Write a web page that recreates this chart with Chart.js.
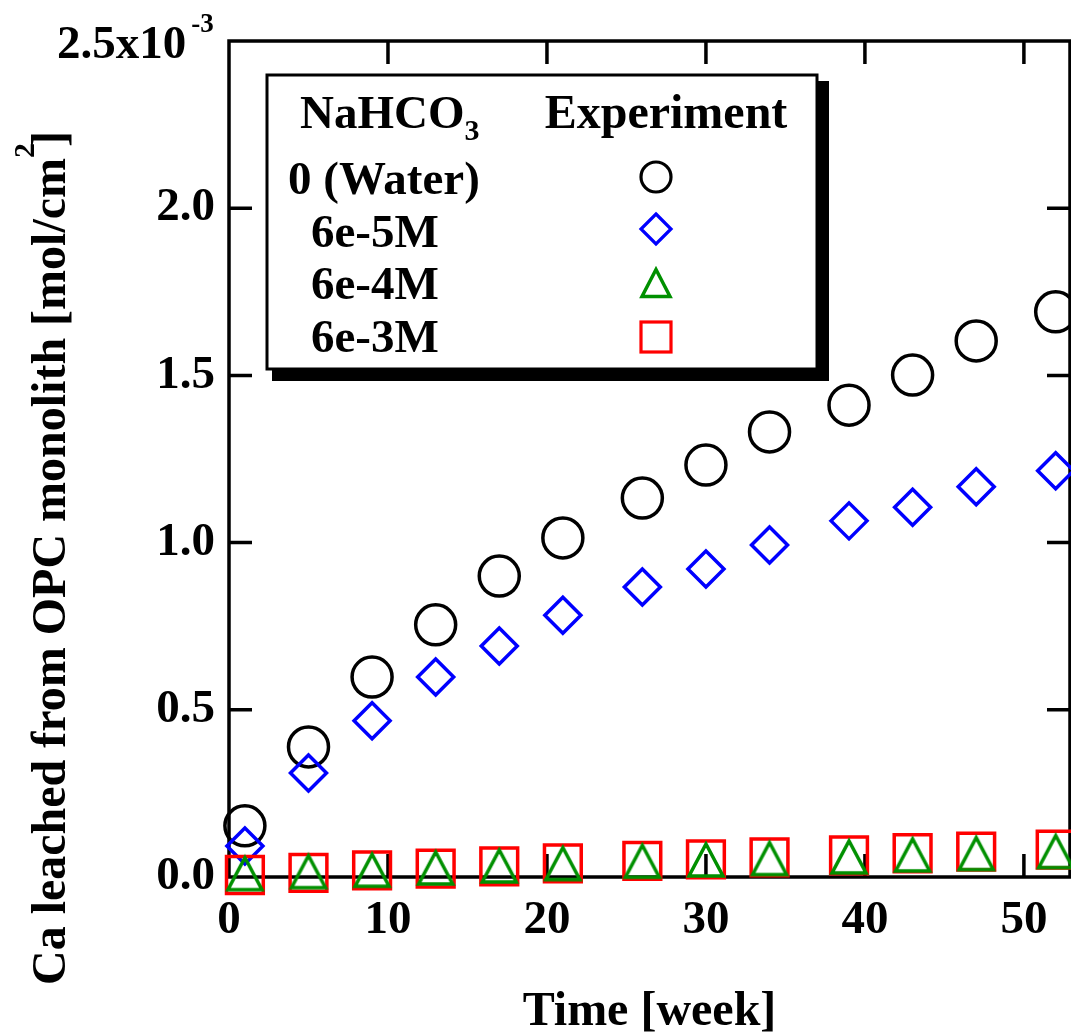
<!DOCTYPE html>
<html>
<head>
<meta charset="utf-8">
<title>Ca leaching from OPC monolith</title>
<script src="https://cdn.jsdelivr.net/npm/chart.js@4.4.1/dist/chart.umd.min.js"></script>
<style>
  html, body { margin: 0; padding: 0; background: #fff; }
  #wrap { width: 1071px; height: 1033px; }
</style>
</head>
<body>
<div id="wrap"><canvas id="leachChart" width="1071" height="1033"></canvas></div>
<script>
// leaching time, weeks
const weeks = [1, 5, 9, 13, 17, 21, 26, 30, 34, 39, 43, 47, 52];

// cumulative Ca leached, in units of 1e-3 mol/cm2
const caWater = [0.153, 0.389, 0.598, 0.754, 0.900, 1.014, 1.133, 1.232, 1.331, 1.411, 1.501, 1.603, 1.690];
const ca6e5 = [0.093, 0.311, 0.467, 0.598, 0.691, 0.783, 0.867, 0.921, 0.993, 1.065, 1.106, 1.167, 1.215];
const ca6e4 = [0.010, 0.016, 0.020, 0.027, 0.033, 0.040, 0.047, 0.051, 0.055, 0.060, 0.066, 0.070, 0.076];
const ca6e3 = [0.006, 0.012, 0.020, 0.025, 0.032, 0.041, 0.048, 0.053, 0.059, 0.065, 0.071, 0.076, 0.082];

const seriesLabels = ['0 (Water)', '6e-5M', '6e-4M', '6e-3M'];
const xTickValues = [0, 10, 20, 30, 40, 50];
const yTickValues = [0, 0.5, 1.0, 1.5, 2.0, 2.5];

const serif = "'Liberation Serif', 'Times New Roman', serif";
const green = '#009000';
const tickLen = 23;

function toPoints(ys) {
    return weeks.map((w, i) => ({ x: w, y: ys[i] }));
}

// open triangle as an image so that its box is centred on the value
function triangleImage(half, height, color) {
    const c = document.createElement('canvas');
    c.width = 60;
    c.height = 60;
    const g = c.getContext('2d');
    g.strokeStyle = color;
    g.lineWidth = 3.5;
    g.lineJoin = 'miter';
    g.beginPath();
    g.moveTo(30, 30 - height / 2);
    g.lineTo(30 + half, 30 + height / 2);
    g.lineTo(30 - half, 30 + height / 2);
    g.closePath();
    g.stroke();
    return c;
}

const bigTriangle = triangleImage(17, 32, green);
const smallTriangle = triangleImage(14, 27, green);

function drawText(ctx, text, x, y, size, align) {
    ctx.font = 'bold ' + size + 'px ' + serif;
    ctx.textAlign = align || 'left';
    ctx.textBaseline = 'alphabetic';
    ctx.fillText(text, x, y);
    return ctx.measureText(text).width;
}

// axis box, inward ticks, titles and the framed legend
const framePlugin = {
    id: 'frame',
    beforeDatasetsDraw(chart) {
        const { ctx, chartArea: a, scales: { x, y } } = chart;
        ctx.save();
        ctx.strokeStyle = '#000';
        ctx.lineWidth = 3.5;
        ctx.strokeRect(a.left, a.top, a.right - a.left, a.bottom - a.top);
        ctx.beginPath();
        x.ticks.forEach(t => {
            const px = x.getPixelForValue(t.value);
            if (px <= a.left + 2 || px >= a.right - 2) return;
            ctx.moveTo(px, a.bottom);
            ctx.lineTo(px, a.bottom - tickLen);
            ctx.moveTo(px, a.top);
            ctx.lineTo(px, a.top + tickLen);
        });
        y.ticks.forEach(t => {
            const py = y.getPixelForValue(t.value);
            if (py <= a.top + 2 || py >= a.bottom - 2) return;
            ctx.moveTo(a.left, py);
            ctx.lineTo(a.left + tickLen, py);
            ctx.moveTo(a.right, py);
            ctx.lineTo(a.right - tickLen, py);
        });
        ctx.stroke();
        ctx.restore();
    },
    afterDraw(chart) {
        const { ctx, chartArea: a, scales: { y } } = chart;
        ctx.save();
        ctx.fillStyle = '#000';

        // top tick label with exponent
        const topY = y.getPixelForValue(2.5);
        const w = drawText(ctx, '2.5x10', 57, topY + 17, 47);
        drawText(ctx, '-3', 57 + w + 5, topY - 9, 27);

        // x title
        drawText(ctx, 'Time [week]', (a.left + a.right) / 2, 1025, 48, 'center');

        // y title, rotated
        ctx.save();
        ctx.translate(65, 558);
        ctx.rotate(-Math.PI / 2);
        ctx.font = 'bold 48px ' + serif;
        const main = 'Ca leached from OPC monolith [mol/cm';
        const w1 = ctx.measureText(main).width;
        ctx.font = 'bold 30px ' + serif;
        const w2 = ctx.measureText('2').width;
        ctx.font = 'bold 48px ' + serif;
        const w3 = ctx.measureText(']').width;
        const start = -(w1 + w2 - 4 + w3) / 2;
        drawText(ctx, main, start, 0, 48);
        drawText(ctx, '2', start + w1, -31, 30);
        drawText(ctx, ']', start + w1 + w2 - 4, 0, 48);
        ctx.restore();

        // legend box with drop shadow
        const bx = 267, by = 75, bw = 550, bh = 294;
        ctx.fillStyle = '#000';
        ctx.fillRect(bx + 5, by + 6, bw + 7, bh + 6);
        ctx.fillStyle = '#fff';
        ctx.fillRect(bx, by, bw, bh);
        ctx.strokeStyle = '#000';
        ctx.lineWidth = 3;
        ctx.strokeRect(bx, by, bw, bh);

        ctx.fillStyle = '#000';
        const nw = drawText(ctx, 'NaHCO', 300, 128, 47);
        drawText(ctx, '3', 300 + nw, 140, 30);
        drawText(ctx, 'Experiment', 666, 128, 48, 'center');

        const rowY = [194, 247, 299, 352];
        const rowX = [288, 311, 311, 311];
        seriesLabels.forEach((s, i) => drawText(ctx, s, rowX[i], rowY[i], 47));

        const mx = 656;
        ctx.lineWidth = 3.2;
        ctx.strokeStyle = '#000';
        ctx.beginPath();
        ctx.arc(mx, 177, 15, 0, Math.PI * 2);
        ctx.stroke();

        ctx.strokeStyle = '#0000ff';
        ctx.beginPath();
        ctx.moveTo(mx, 229 - 15);
        ctx.lineTo(mx + 15, 229);
        ctx.lineTo(mx, 229 + 15);
        ctx.lineTo(mx - 15, 229);
        ctx.closePath();
        ctx.stroke();

        ctx.drawImage(smallTriangle, mx - 30, 283 - 30);

        ctx.strokeStyle = '#ff0000';
        ctx.strokeRect(mx - 15, 337 - 15, 30, 30);
        ctx.restore();
    }
};

const ctx = document.getElementById('leachChart').getContext('2d');

const myChart = new Chart(ctx, {
    type: 'scatter',
    data: {
        datasets: [
            {
                label: seriesLabels[0],
                data: toPoints(caWater),
                pointStyle: 'circle',
                pointRadius: 20,
                borderColor: '#000',
                backgroundColor: 'rgba(0,0,0,0)',
                pointBorderWidth: 3.5,
                order: 4
            },
            {
                label: seriesLabels[1],
                data: toPoints(ca6e5),
                pointStyle: 'rectRot',
                pointRadius: 18,
                borderColor: '#0000ff',
                backgroundColor: 'rgba(0,0,0,0)',
                pointBorderWidth: 3.5,
                order: 3
            },
            {
                label: seriesLabels[2],
                data: toPoints(ca6e4),
                pointStyle: bigTriangle,
                pointRadius: 20,
                borderColor: green,
                backgroundColor: 'rgba(0,0,0,0)',
                order: 1
            },
            {
                label: seriesLabels[3],
                data: toPoints(ca6e3),
                pointStyle: 'rect',
                pointRadius: 26,
                borderColor: '#ff0000',
                backgroundColor: 'rgba(0,0,0,0)',
                pointBorderWidth: 3.5,
                order: 2
            }
        ]
    },
    options: {
        responsive: false,
        animation: false,
        events: [],
        clip: false,
        layout: { autoPadding: false, padding: { top: 41, right: 1, left: 0, bottom: 0 } },
        plugins: {
            legend: { display: false },
            tooltip: { enabled: false }
        },
        scales: {
            x: {
                type: 'linear',
                min: 0,
                max: 52.9,
                afterBuildTicks: scale => {
                    scale.ticks = xTickValues.map(v => ({ value: v }));
                },
                afterFit: scale => {
                    scale.height = 156;
                    scale.paddingLeft = 0;
                    scale.paddingRight = 0;
                },
                grid: { display: false },
                border: { display: false },
                ticks: {
                    color: '#000',
                    padding: 8,
                    maxRotation: 0,
                    font: { family: serif, size: 47, weight: 'bold' },
                    callback: v => String(v)
                }
            },
            y: {
                type: 'linear',
                min: 0,
                max: 2.5,
                afterBuildTicks: scale => {
                    scale.ticks = yTickValues.map(v => ({ value: v }));
                },
                afterFit: scale => {
                    scale.width = 229;
                    scale.paddingTop = 0;
                    scale.paddingBottom = 0;
                },
                grid: { display: false },
                border: { display: false },
                ticks: {
                    color: '#000',
                    padding: 6,
                    font: { family: serif, size: 47, weight: 'bold' },
                    // the top value is written with its exponent by the frame plugin
                    callback: v => (v === 2.5 ? '' : v.toFixed(1))
                }
            }
        }
    },
    plugins: [framePlugin]
});
</script>
</body>
</html>
